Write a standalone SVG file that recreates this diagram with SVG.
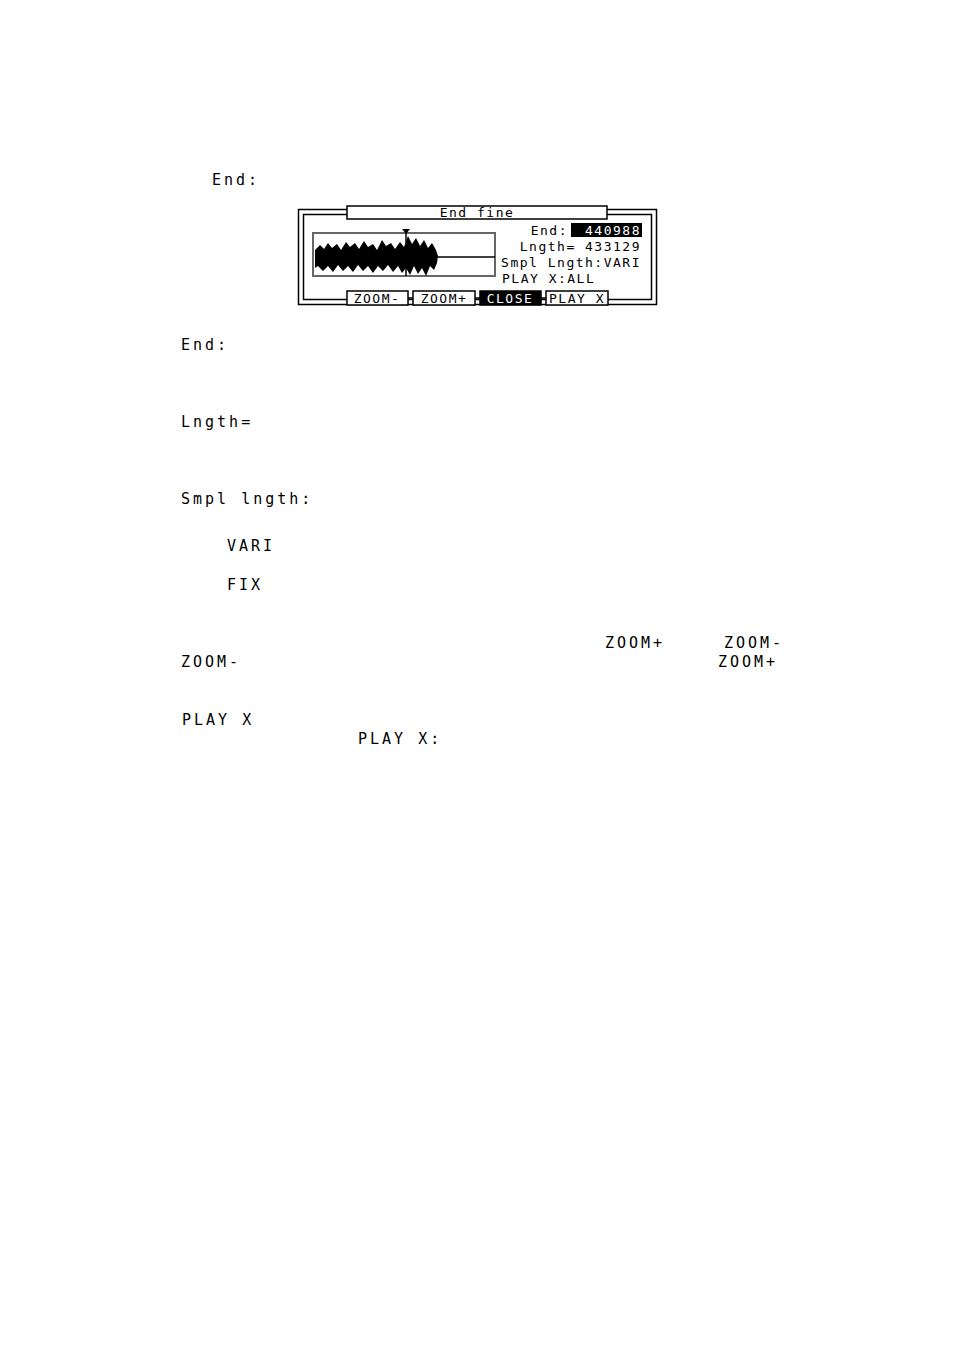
<svg xmlns="http://www.w3.org/2000/svg" width="954" height="1351" viewBox="0 0 954 1351">
<style>
.t{font-family:"DejaVu Sans Mono","Liberation Mono",monospace;font-size:15px;fill:#000;letter-spacing:3px}
.s{font-family:"DejaVu Sans Mono","Liberation Mono",monospace;font-size:13px;fill:#000;letter-spacing:1.5px}
.f{fill:none;stroke:#000;stroke-width:1.5}
</style>
<rect width="954" height="1351" fill="#fff"/>
<g id="labels">
<text class="t" x="212" y="185">End:</text>
<text class="t" x="181" y="350">End:</text>
<text class="t" x="181" y="427">Lngth=</text>
<text class="t" x="181" y="504">Smpl lngth:</text>
<text class="t" x="227" y="551">VARI</text>
<text class="t" x="227" y="590">FIX</text>
<text class="t" x="605" y="648">ZOOM+</text>
<text class="t" x="724" y="648">ZOOM-</text>
<text class="t" x="181" y="667">ZOOM-</text>
<text class="t" x="718" y="667">ZOOM+</text>
<text class="t" x="182" y="725">PLAY X</text>
<text class="t" x="358" y="744">PLAY X:</text>
</g>
<g id="screen">
<rect class="f" x="298.5" y="209.5" width="358" height="95"/>
<rect class="f" x="303.5" y="214.5" width="348" height="85"/>
<rect x="347" y="206" width="260" height="13" fill="#fff" stroke="#000" stroke-width="1.5"/>
<text class="s" x="477" y="217" text-anchor="middle">End fine</text>
<rect x="313" y="233" width="182" height="43" fill="none" stroke="#666" stroke-width="2"/>
<line x1="406" y1="257" x2="495" y2="257" stroke="#000" stroke-width="1.5"/>
<path d="M315 250 L320 245 L324 249 L328 243 L332 248 L337 244 L341 250 L346 242 L350 247 L355 243 L359 249 L364 241 L368 247 L373 244 L377 250 L382 240 L386 246 L391 243 L395 249 L400 242 L404 247 L408 236 L412 244 L416 238 L420 246 L424 240 L428 248 L432 243 L436 250 L438 256 L437 263 L434 270 L430 266 L426 276 L422 268 L418 274 L414 266 L410 275 L406 268 L402 273 L398 266 L393 272 L388 265 L383 271 L378 266 L373 273 L368 266 L363 271 L358 265 L353 272 L348 266 L343 271 L338 265 L333 272 L328 266 L323 271 L318 266 L315 268 Z" fill="#000"/>
<line x1="406" y1="230" x2="406" y2="276" stroke="#000" stroke-width="1.5"/>
<path d="M402 229 L410 229 L406 234 Z" fill="#000"/>
<text class="s" x="568" y="235" text-anchor="end">End:</text>
<rect x="571" y="223" width="71" height="14" fill="#000"/>
<text class="s" x="641" y="235" text-anchor="end" style="fill:#fff">440988</text>
<text class="s" x="641" y="251" text-anchor="end">Lngth=  433129</text>
<text class="s" x="641" y="267" text-anchor="end">Smpl Lngth:VARI</text>
<text class="s" x="502" y="283">PLAY X:ALL</text>
<rect x="347" y="291" width="61" height="14" fill="#fff" stroke="#000" stroke-width="1.5"/>
<rect x="413" y="291" width="62" height="14" fill="#fff" stroke="#000" stroke-width="1.5"/>
<rect x="480" y="291" width="61" height="14" fill="#000" stroke="#000" stroke-width="1.5"/>
<rect x="546" y="291" width="62" height="14" fill="#fff" stroke="#000" stroke-width="1.5"/>
<line x1="408" y1="298" x2="413" y2="298" stroke="#000" stroke-width="1.5"/>
<line x1="475" y1="298" x2="480" y2="298" stroke="#000" stroke-width="1.5"/>
<line x1="541" y1="298" x2="546" y2="298" stroke="#000" stroke-width="1.5"/>
<text class="s" x="377" y="303" text-anchor="middle">ZOOM-</text>
<text class="s" x="444" y="303" text-anchor="middle">ZOOM+</text>
<text class="s" x="510" y="303" text-anchor="middle" style="fill:#fff">CLOSE</text>
<text class="s" x="577" y="303" text-anchor="middle">PLAY X</text>
</g>
</svg>
